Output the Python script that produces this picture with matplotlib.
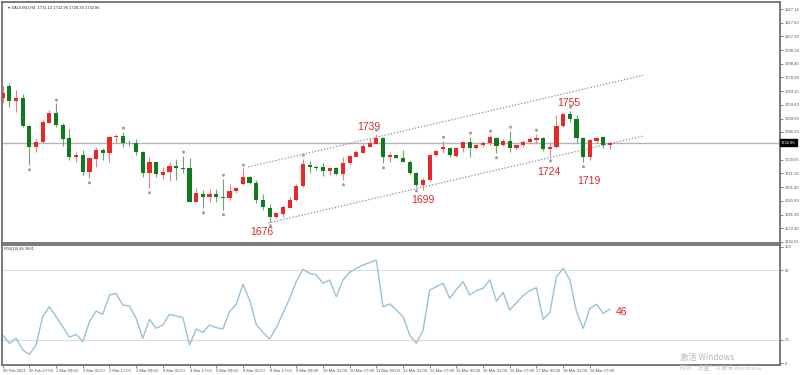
"""
plot.py -- XAUUSD H4 candlestick chart with price channel and RSI(14) panel
"""
import matplotlib
matplotlib.use("Agg")
import matplotlib.pyplot as plt
import numpy as np

plt.rcParams['font.family'] = ['Liberation Sans', 'DejaVu Sans']

# OHLC per H4 bar
OPEN = [1764.1, 1773.0, 1762.2, 1764.5, 1744.7, 1729.5, 1733.2, 1746.8, 1753.9, 1745.2,
        1735.8, 1722.4, 1724.1, 1712.2, 1721.0, 1727.6, 1725.7, 1736.5, 1737.5, 1732.6,
        1732.7, 1726.4, 1711.1, 1718.9, 1709.9, 1712.2, 1716.3, 1715.1, 1714.7, 1691.1,
        1696.3, 1694.2, 1696.3, 1694.6, 1693.9, 1698.6, 1703.4, 1708.7, 1704.1, 1692.3,
        1686.4, 1680.1, 1682.4, 1686.8, 1692.3, 1702.2, 1717.2, 1715.8, 1715.8, 1713.0,
        1714.7, 1710.4, 1718.2, 1722.8, 1725.7, 1729.9, 1731.8, 1735.8, 1722.4, 1724.1,
        1722.1, 1719.3, 1711.5, 1702.9, 1706.4, 1724.1, 1728.3, 1729.2, 1723.6, 1728.8,
        1733.4, 1728.8, 1731.1, 1732.3, 1735.8, 1731.1, 1733.9, 1728.8, 1731.1, 1733.0,
        1734.6, 1735.8, 1728.3, 1729.9, 1744.7, 1752.8, 1749.5, 1735.8, 1722.4, 1734.1,
        1736.5, 1731.1]
HIGH = [1772.8, 1774.7, 1769.9, 1767.1, 1745.0, 1735.3, 1748.8, 1755.8, 1760.6, 1746.4,
        1742.2, 1726.4, 1727.6, 1722.8, 1729.5, 1729.2, 1737.5, 1738.7, 1740.5, 1734.5,
        1735.1, 1726.6, 1722.8, 1719.3, 1715.8, 1719.3, 1721.0, 1723.3, 1721.7, 1700.5,
        1699.3, 1699.8, 1699.8, 1707.1, 1703.6, 1701.7, 1714.7, 1709.2, 1706.4, 1696.3,
        1689.4, 1683.8, 1688.7, 1694.6, 1703.6, 1721.2, 1719.8, 1717.0, 1718.2, 1715.4,
        1715.8, 1722.8, 1724.1, 1727.6, 1732.7, 1735.8, 1738.9, 1736.5, 1726.4, 1724.8,
        1727.6, 1720.5, 1712.2, 1707.6, 1724.8, 1727.6, 1734.1, 1729.9, 1729.9, 1734.1,
        1737.0, 1731.8, 1733.9, 1738.2, 1737.0, 1735.1, 1741.2, 1731.8, 1734.6, 1737.0,
        1738.9, 1737.0, 1733.4, 1752.3, 1753.5, 1755.0, 1752.3, 1737.0, 1735.1, 1737.0,
        1737.5, 1733.4]
LOW = [1760.8, 1758.2, 1754.6, 1744.0, 1717.0, 1726.4, 1732.8, 1746.4, 1743.6, 1730.4,
       1720.5, 1719.3, 1709.9, 1707.6, 1715.4, 1720.5, 1719.3, 1732.7, 1729.5, 1730.4,
       1724.1, 1708.3, 1700.5, 1708.7, 1706.9, 1705.7, 1706.4, 1711.5, 1690.8, 1690.8,
       1686.4, 1691.1, 1691.1, 1685.2, 1692.3, 1697.4, 1702.9, 1703.6, 1689.9, 1685.2,
       1676.9, 1679.3, 1680.5, 1686.4, 1691.8, 1701.7, 1711.1, 1713.5, 1709.2, 1709.9,
       1709.9, 1706.4, 1717.0, 1722.4, 1725.2, 1729.5, 1731.6, 1718.2, 1719.3, 1721.7,
       1719.0, 1710.6, 1701.7, 1699.0, 1705.9, 1723.3, 1725.2, 1722.4, 1722.4, 1726.4,
       1722.4, 1728.3, 1729.9, 1731.1, 1725.2, 1730.6, 1726.4, 1727.6, 1729.9, 1731.8,
       1732.7, 1727.1, 1723.3, 1728.8, 1744.0, 1747.6, 1732.3, 1719.0, 1720.5, 1732.3,
       1728.8, 1728.3]
CLOSE = [1767.8, 1762.2, 1764.1, 1744.5, 1729.5, 1733.4, 1747.6, 1753.9, 1745.0, 1735.3,
         1722.4, 1724.3, 1712.2, 1721.7, 1727.6, 1725.2, 1736.5, 1737.7, 1732.3, 1732.2,
         1726.0, 1711.1, 1718.9, 1710.6, 1712.2, 1716.3, 1714.9, 1714.2, 1691.1, 1697.4,
         1694.2, 1696.3, 1694.6, 1693.7, 1698.8, 1700.5, 1708.7, 1704.1, 1692.3, 1687.1,
         1680.1, 1682.9, 1687.1, 1692.3, 1702.2, 1717.5, 1715.8, 1715.1, 1713.0, 1714.9,
         1710.6, 1718.2, 1723.3, 1726.4, 1730.4, 1732.3, 1735.8, 1722.4, 1724.1, 1722.1,
         1719.3, 1711.1, 1702.9, 1706.4, 1724.1, 1726.9, 1729.9, 1724.1, 1728.8, 1733.4,
         1728.8, 1731.1, 1732.7, 1736.5, 1730.6, 1734.1, 1728.8, 1731.1, 1733.4, 1735.3,
         1736.3, 1728.3, 1729.9, 1744.7, 1752.8, 1749.5, 1735.8, 1722.8, 1734.6, 1736.3,
         1731.1, 1732.86]

RSI = [24.1, 17.0, 21.3, 11.2, 7.5, 15.5, 40.0, 48.5, 40.0, 31.3,
       22.2, 24.7, 18.4, 35.6, 44.8, 42.0, 58.6, 60.0, 50.0, 49.1,
       38.5, 21.3, 37.6, 29.9, 32.8, 42.0, 40.5, 39.1, 15.5, 29.3,
       26.4, 32.8, 30.5, 29.3, 44.3, 50.6, 67.8, 54.3, 33.3, 26.4,
       20.7, 30.5, 42.8, 55.7, 70.1, 80.7, 77.3, 75.9, 68.7, 71.6,
       57.2, 71.6, 78.2, 81.6, 84.5, 86.5, 88.8, 48.5, 50.9, 45.7,
       40.0, 24.1, 17.0, 28.4, 62.9, 65.8, 68.7, 55.7, 63.5, 70.1,
       58.6, 62.4, 64.4, 71.6, 53.4, 60.9, 45.7, 52.0, 58.0, 62.4,
       64.9, 37.6, 43.4, 74.4, 81.6, 71.6, 44.3, 29.9, 47.1, 50.6,
       42.8, 46.37]

FRACTAL_UP = [8, 18, 27, 33, 36, 45, 56, 66, 70, 73, 76, 80, 85]
FRACTAL_DN = [4, 13, 22, 30, 33, 40, 51, 57, 62, 74, 82, 87]

TIME_LABELS = ["26 Feb 2021", "26 Feb 17:00", "1 Mar 09:00", "2 Mar 01:00", "2 Mar 17:00",
               "3 Mar 09:00", "4 Mar 01:00", "4 Mar 17:00", "5 Mar 09:00", "8 Mar 01:00",
               "8 Mar 17:00", "9 Mar 09:00", "10 Mar 01:00", "10 Mar 17:00", "11 Mar 09:00",
               "12 Mar 01:00", "12 Mar 17:00", "15 Mar 09:00", "16 Mar 01:00", "16 Mar 17:00",
               "17 Mar 09:00", "18 Mar 01:00", "18 Mar 17:00"]

PRICE_TICKS = [1827.14, 1817.62, 1807.90, 1798.18, 1788.40, 1778.99, 1769.15, 1759.43,
               1749.65, 1740.33, 1720.65, 1711.19, 1701.40, 1691.83, 1681.90, 1672.40,
               1662.61]
LAST_PRICE = 1732.86

# channel lines: (bar index, price) start/end
CHANNEL_UP = [(36.8, 1715.6), (96.0, 1780.3)]
CHANNEL_DN = [(39.8, 1676.0), (96.0, 1737.5)]

# red annotations: text, bar index, value
PRICE_NOTES = [("1676", 38.9, 1669.7), ("1739", 54.9, 1743.8), ("1699", 63.0, 1692.3),
               ("1755", 84.8, 1760.8), ("1724", 81.8, 1712.0), ("1719", 87.9, 1705.7)]
RSI_NOTE = ("46", 92.7, 44.0)

RED = "#e42a2a"
GREEN = "#127a1e"
NOTE_RED = "#d8282c"
BORDER = "#6e6e6e"
TXT = "#555555"

W, H = 800, 375
fig = plt.figure(figsize=(8, 3.75), dpi=100)
fig.patch.set_facecolor("white")


def px_axes(x0, y0, x1, y1):
    return fig.add_axes([x0 / W, 1 - y1 / H, (x1 - x0) / W, (y1 - y0) / H])


XLIM = (-0.105, 116.5)

# ---- price panel ----
ax = px_axes(2, 2, 780, 243)
ax.set_xlim(*XLIM)
ax.set_ylim(1661.9, 1832.1)

idx = np.arange(len(OPEN))
o, h, l, c = map(np.array, (OPEN, HIGH, LOW, CLOSE))
up = c >= o
cols = np.where(up, RED, GREEN)
wick_cols = np.where(up, "#f08080", "#6aa870")
ax.vlines(idx, l, h, colors=wick_cols, lw=0.8, zorder=2)
body_lo = np.minimum(o, c)
body_h = np.maximum(np.abs(c - o), 0.6)
ax.bar(idx, body_h, bottom=body_lo, width=0.62, color=cols, lw=0, zorder=3)

ax.axhline(LAST_PRICE, color="#b4b4b4", lw=1.0, zorder=1)

for seg in (CHANNEL_UP, CHANNEL_DN):
    ax.plot([seg[0][0], seg[1][0]], [seg[0][1], seg[1][1]], ls=(0, (1.2, 1.6)),
            color="#7a86b0", lw=0.8, zorder=1)

ax.plot(np.array(FRACTAL_UP), h[FRACTAL_UP] + 2.6, ls="none", marker="v",
        ms=1.4, color="#9a9a9a", zorder=4)
ax.plot(np.array(FRACTAL_DN), l[FRACTAL_DN] - 2.6, ls="none", marker="^",
        ms=1.4, color="#9a9a9a", zorder=4)

for txt, xi, yv in PRICE_NOTES:
    ax.text(xi, yv, txt, color=NOTE_RED, fontsize=7.5, ha="center", va="center")

ax.text(0.008, 0.985, "\u25be XAUUSD,H4  1731.12 1732.96 1728.34 1732.86",
        transform=ax.transAxes, fontsize=3, color="#333333", va="top", ha="left")

ax.yaxis.tick_right()
ax.set_yticks(PRICE_TICKS)
ax.set_yticklabels([f"{v:.2f}" for v in PRICE_TICKS])
ax.tick_params(axis="y", labelsize=3, length=2, width=0.5, pad=1.5,
               colors=TXT)
ax.set_xticks([])
for s in ax.spines.values():
    s.set_color(BORDER)
    s.set_linewidth(1.3)

ax.text(1.0015, (LAST_PRICE - 1661.9) / (1832.1 - 1661.9), f"{LAST_PRICE:.2f}",
        transform=ax.transAxes, fontsize=3, color="white", va="center", ha="left",
        bbox=dict(boxstyle="square,pad=0.25", fc="black", ec="black"))

# ---- RSI panel ----
ar = px_axes(2, 245, 780, 365)
ar.set_xlim(*XLIM)
ar.set_ylim(-1.7, 101.7)
ar.axhline(80, color="#dcdcdc", lw=0.8)
ar.axhline(20, color="#dcdcdc", lw=0.8)
ar.plot(idx, RSI, color="#98c2d6", lw=1.0)
ar.text(RSI_NOTE[1], RSI_NOTE[2], RSI_NOTE[0], color=NOTE_RED, fontsize=7.5,
        ha="center", va="center")
ar.text(0.003, 0.985, "RSI(14) 46.3661", transform=ar.transAxes, fontsize=3,
        color="#333333", va="top", ha="left")

ar.yaxis.tick_right()
ar.set_yticks([100, 80, 20, 0])
ar.set_yticklabels(["100", "80", "20", "0"])
ar.tick_params(axis="y", labelsize=3, length=2, width=0.5, pad=1.5, colors=TXT)

tick_idx = np.arange(0, 4 * len(TIME_LABELS), 4)
ar.set_xticks(tick_idx)
ar.set_xticklabels(TIME_LABELS, ha="left")
ar.tick_params(axis="x", labelsize=3, length=2, width=0.5, pad=1, colors=TXT)
for s in ar.spines.values():
    s.set_color(BORDER)
    s.set_linewidth(1.3)

# Windows activation watermark
fig.text(680 / W, 1 - 357 / H, "激活 Windows", fontsize=6, color="#b8b8b8",
         family=["Noto Sans CJK SC", "DejaVu Sans"], va="center", ha="left")
fig.text(680 / W, 1 - 368 / H, "转到“设置”以激活 Windows。", fontsize=4.2,
         color="#c4c4c4", family=["Noto Sans CJK SC", "DejaVu Sans"],
         va="center", ha="left")

fig.savefig("out.png", dpi=100, facecolor="white")
